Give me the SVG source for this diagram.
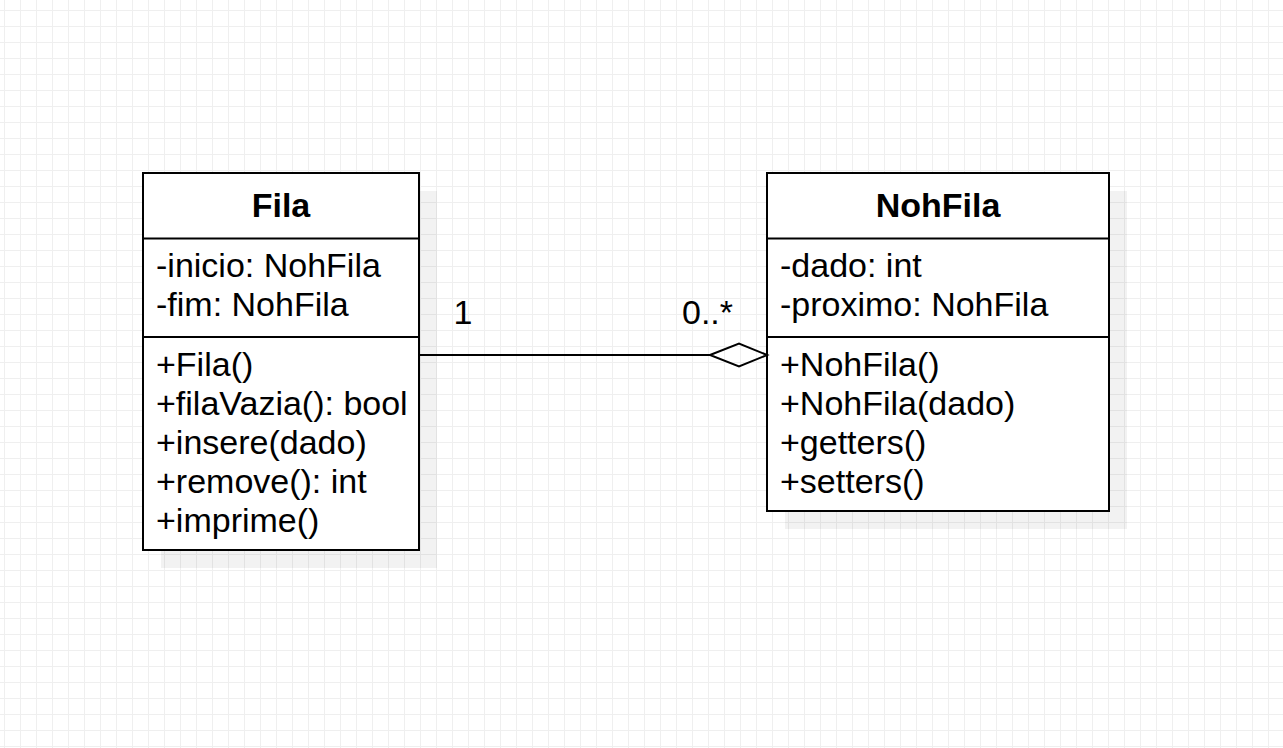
<svg xmlns="http://www.w3.org/2000/svg" width="1283" height="748" viewBox="0 0 1283 748">
  <defs>
    <pattern id="grid" patternUnits="userSpaceOnUse" x="4" y="10" width="16" height="16">
      <path d="M0.5 0 V16 M0 0.5 H16" stroke="#efefef" stroke-width="1" fill="none"/>
    </pattern>
    <style>
      .box { fill: #ffffff; stroke: #000000; stroke-width: 2; }
      .shadow { fill: #000000; fill-opacity: 0.05; }
      .sep { stroke: #000000; stroke-width: 2; fill: none; }
      .title { font-family: "Liberation Sans", Arial, sans-serif; font-size: 34px; font-weight: bold; text-anchor: middle; fill: #000; }
      .txt { font-family: "Liberation Sans", Arial, sans-serif; font-size: 34px; fill: #000; }
      .conn { stroke: #000000; stroke-width: 2; fill: none; }
    </style>
  </defs>
  <rect x="0" y="0" width="1283" height="748" fill="#ffffff"/>
  <rect x="0" y="0" width="1283" height="748" fill="url(#grid)"/>

  <g id="Fila">
    <rect class="shadow" x="161" y="191" width="276" height="377"/>
    <rect class="box" x="143" y="173" width="276" height="377"/>
    <line class="sep" x1="143" y1="238.5" x2="419" y2="238.5"/>
    <line class="sep" x1="143" y1="337" x2="419" y2="337"/>
    <text class="title" x="281" y="217">Fila</text>
    <text class="txt" x="156" y="277">-inicio: NohFila</text>
    <text class="txt" x="156" y="316">-fim: NohFila</text>
    <text class="txt" x="156" y="376">+Fila()</text>
    <text class="txt" x="156" y="415">+filaVazia(): bool</text>
    <text class="txt" x="156" y="454">+insere(dado)</text>
    <text class="txt" x="156" y="493">+remove(): int</text>
    <text class="txt" x="156" y="532">+imprime()</text>
  </g>

  <g id="NohFila">
    <rect class="shadow" x="785" y="191" width="342" height="338"/>
    <rect class="box" x="767" y="173" width="342" height="338"/>
    <line class="sep" x1="767" y1="238.5" x2="1109" y2="238.5"/>
    <line class="sep" x1="767" y1="337" x2="1109" y2="337"/>
    <text class="title" x="938" y="217">NohFila</text>
    <text class="txt" x="780" y="277">-dado: int</text>
    <text class="txt" x="780" y="316">-proximo: NohFila</text>
    <text class="txt" x="780" y="376">+NohFila()</text>
    <text class="txt" x="780" y="415">+NohFila(dado)</text>
    <text class="txt" x="780" y="454">+getters()</text>
    <text class="txt" x="780" y="493">+setters()</text>
  </g>

  <g id="connectors">
    <line class="conn" x1="419" y1="355" x2="710" y2="355"/>
    <polygon class="conn" fill="#ffffff" points="710,355 739,343.5 767,355 739,366.5"/>
    <text class="txt" x="463" y="324" text-anchor="middle">1</text>
    <text class="txt" x="682" y="324">0..*</text>
  </g>
</svg>
